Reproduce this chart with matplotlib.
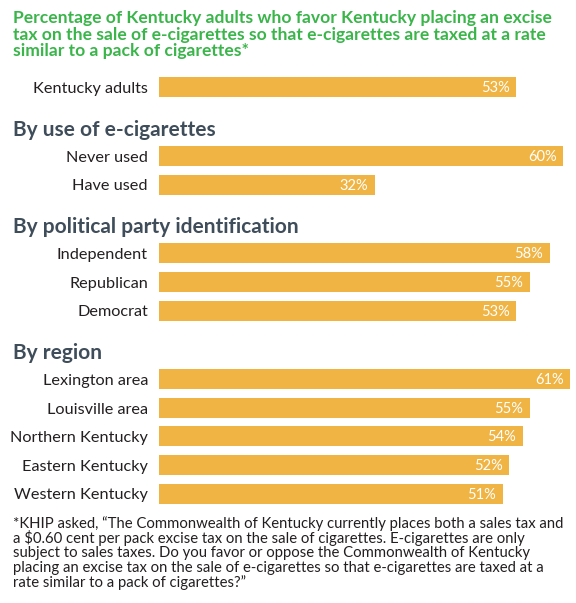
import matplotlib
matplotlib.use("Agg")
import matplotlib.pyplot as plt

# ---------------- data ----------------
title_lines = [
    "Percentage of Kentucky adults who favor Kentucky placing an excise",
    "tax on the sale of e-cigarettes so that e-cigarettes are taxed at a rate",
    "similar to a pack of cigarettes*",
]
group_titles = [None, "By use of e-cigarettes", "By political party identification", "By region"]
group_labels = [
    ["Kentucky adults"],
    ["Never used", "Have used"],
    ["Independent", "Republican", "Democrat"],
    ["Lexington area", "Louisville area", "Northern Kentucky", "Eastern Kentucky", "Western Kentucky"],
]
group_values = [
    [53],
    [60, 32],
    [58, 55, 53],
    [61, 55, 54, 52, 51],
]
footnote_lines = [
    "*KHIP asked, \u201cThe Commonwealth of Kentucky currently places both a sales tax and",
    "a $0.60 cent per pack excise tax on the sale of cigarettes. E-cigarettes are only",
    "subject to sales taxes. Do you favor or oppose the Commonwealth of Kentucky",
    "placing an excise tax on the sale of e-cigarettes so that e-cigarettes are taxed at a",
    "rate similar to a pack of cigarettes?\u201d",
]

# ---------------- style ----------------
W, H = 576, 603
BAR = "#EFB443"
GREEN = "#3AB54A"
HEAD = "#3F4D5A"
TEXT = "#231F20"
FONT = ["Lato", "DejaVu Sans"]

plt.rcParams["font.family"] = FONT

fig = plt.figure(figsize=(W / 100, H / 100), dpi=100)
fig.patch.set_facecolor("white")

bar_left = 159.3
px_per_pct = 6.733
xmax = 61.5
ax = fig.add_axes([bar_left / W, 0, xmax * px_per_pct / W, 1])
ax.set_xlim(0, xmax)
ax.set_ylim(H, 0)
ax.axis("off")

# layout (in pixel units of the y axis)
y_first = 87.3
step = 28.6
gap = 68.7
head_off = 25.4

ys, vals, labs, heads = [], [], [], []
y = y_first
for gi, (ttl, labels, values) in enumerate(zip(group_titles, group_labels, group_values)):
    if gi > 0:
        y = ys[-1] + gap
    if ttl:
        heads.append((ttl, y - head_off))
    for j, (lab, v) in enumerate(zip(labels, values)):
        ys.append(y + j * step)
        vals.append(v)
        labs.append(lab)

ax.barh(ys, vals, height=20, color=BAR, edgecolor="none")

for yc, v, lab in zip(ys, vals, labs):
    ax.text(-11.3 / px_per_pct, yc + 5.8, lab, ha="right", va="baseline",
            fontsize=11.7, color=TEXT)
    ax.text(v - 6.6 / px_per_pct, yc + 5.0, f"{v}%", ha="right", va="baseline",
            fontsize=10.5, color="white")

for ttl, base in heads:
    ax.text((12.7 - bar_left) / px_per_pct, base + 5.5, ttl, ha="left", va="baseline",
            fontsize=15, fontweight="bold", color=HEAD)

title_base = [23, 39.6, 56.2]
for line, b in zip(title_lines, title_base):
    fig.text(12.7 / W, 1 - b / H, line, ha="left", va="baseline",
             fontsize=12.6, fontweight="bold", color=GREEN)

foot_base = [528, 542.7, 557.4, 572.1, 586.8]
for line, b in zip(footnote_lines, foot_base):
    fig.text(13 / W, 1 - b / H, line, ha="left", va="baseline",
             fontsize=10.7, color=TEXT)

fig.savefig("out.png", dpi=100, facecolor="white")
